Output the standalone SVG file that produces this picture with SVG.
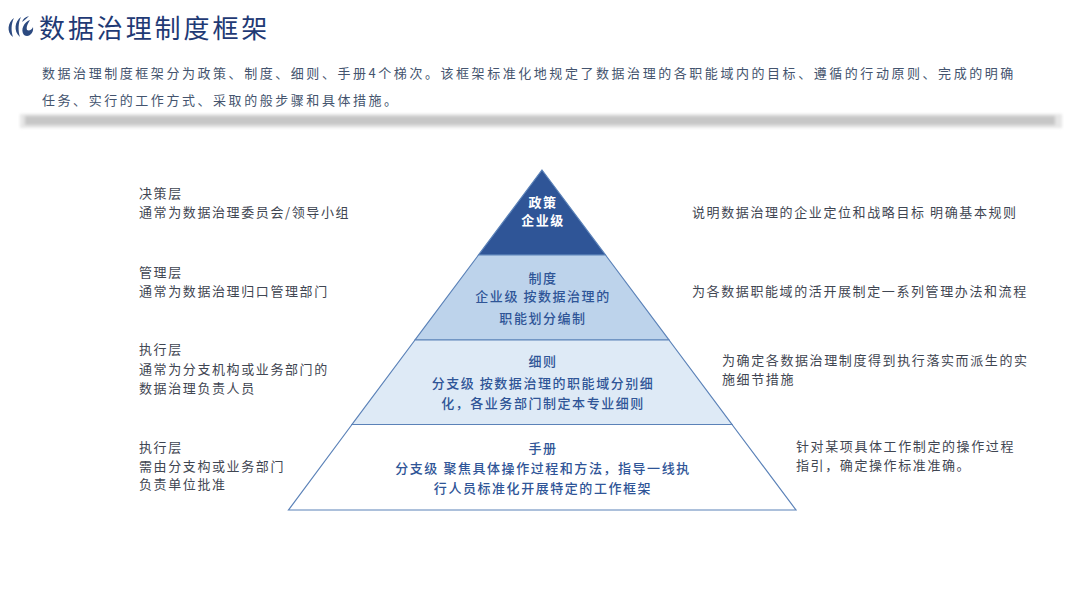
<svg xmlns="http://www.w3.org/2000/svg" width="1080" height="608" viewBox="0 0 1080 608">
<defs><filter id="b" x="-5%" y="-100%" width="110%" height="300%"><feGaussianBlur stdDeviation="1.6"/></filter></defs>
<style>
text{font-family:"Noto Sans CJK SC","Noto Sans",sans-serif}
.title{font-size:26px;fill:#1f3a75;letter-spacing:2.9px}
.intro{font-size:13px;fill:#44546e;letter-spacing:2.55px}
.side{font-size:13px;fill:#3f4652;letter-spacing:1.6px}
.in{font-size:13px;font-weight:500;fill:#2f5597;letter-spacing:1.55px;text-anchor:middle}
.w{fill:#fff;font-weight:700}
.tier{stroke:#5b82b8;stroke-width:1.2}
</style>
<rect width="1080" height="608" fill="#fff"/>
<g id="logo" fill="#2c4a80">
<path d="M14 18C8 22 6 32 13 37C11 31 11 24 14 18Z"/>
<path d="M21 17C15 21 13 31 20 37C18 31 18 23 21 17Z"/>
<path d="M29 16C25 17 23 19 22 22C25 20 27 18 29 16ZM30 20C24 22 20 30 24 35C29 38 34 33 33 27C32 30 29 31 27 30C26 27 28 23 30 20Z"/>
</g>
<text class="title" x="39" y="38">数据治理制度框架</text>
<g id="intro">
<text class="intro" x="42" y="78">数据治理制度框架分为政策、制度、细则、手册4个梯次。该框架标准化地规定了数据治理的各职能域内的目标、遵循的行动原则、完成的明确</text>
<text class="intro" x="42" y="105">任务、实行的工作方式、采取的般步骤和具体措施。</text>
</g>
<g id="band">
<rect x="20" y="114" width="1042" height="14" fill="#e6e6e6" filter="url(#b)"/>
<rect x="25" y="116" width="1030" height="9" fill="#c6c6c6" filter="url(#b)"/>
</g>
<g id="pyramid">
<g id="tier1"><polygon class="tier" points="542,170 605.5,255 478.5,255" fill="#2f5597"/>
<text class="in w" x="543" y="207">政策</text><text class="in w" x="543" y="225">企业级</text></g>
<g id="tier2"><polygon class="tier" points="478.5,255 605.5,255 669,340 415,340" fill="#bdd3eb"/>
<text class="in" x="543" y="283">制度</text><text class="in" x="543" y="301">企业级 按数据治理的</text><text class="in" x="543" y="323">职能划分编制</text></g>
<g id="tier3"><polygon class="tier" points="415,340 669,340 732,424.500 352,424.500" fill="#deeaf6"/>
<text class="in" x="543" y="366">细则</text><text class="in" x="543" y="388">分支级 按数据治理的职能域分别细</text><text class="in" x="543" y="408">化，各业务部门制定本专业细则</text></g>
<g id="tier4"><polygon class="tier" points="352,424.500 732,424.500 796,510 288.500,510" fill="#fff"/>
<text class="in" x="543" y="453">手册</text><text class="in" x="543" y="473">分支级 聚焦具体操作过程和方法，指导一线执</text><text class="in" x="543" y="493">行人员标准化开展特定的工作框架</text></g>
</g>
<g id="left">
<g id="l1"><text class="side" x="139" y="198">决策层</text><text class="side" x="139" y="217">通常为数据治理委员会/领导小组</text></g>
<g id="l2"><text class="side" x="139" y="277">管理层</text><text class="side" x="139" y="296">通常为数据治理归口管理部门</text></g>
<g id="l3"><text class="side" x="139" y="354">执行层</text><text class="side" x="139" y="374">通常为分支机构或业务部门的</text><text class="side" x="139" y="393">数据治理负责人员</text></g>
<g id="l4"><text class="side" x="139" y="452">执行层</text><text class="side" x="139" y="471">需由分支构或业务部门</text><text class="side" x="139" y="489">负责单位批准</text></g>
</g>
<g id="right">
<g id="r1"><text class="side" x="692" y="217">说明数据治理的企业定位和战略目标 明确基本规则</text></g>
<g id="r2"><text class="side" x="692" y="296">为各数据职能域的活开展制定一系列管理办法和流程</text></g>
<g id="r3"><text class="side" x="722" y="365">为确定各数据治理制度得到执行落实而派生的实</text><text class="side" x="722" y="384">施细节措施</text></g>
<g id="r4"><text class="side" x="796" y="451">针对某项具体工作制定的操作过程</text><text class="side" x="796" y="470">指引，确定操作标准准确。</text></g>
</g>
</svg>
